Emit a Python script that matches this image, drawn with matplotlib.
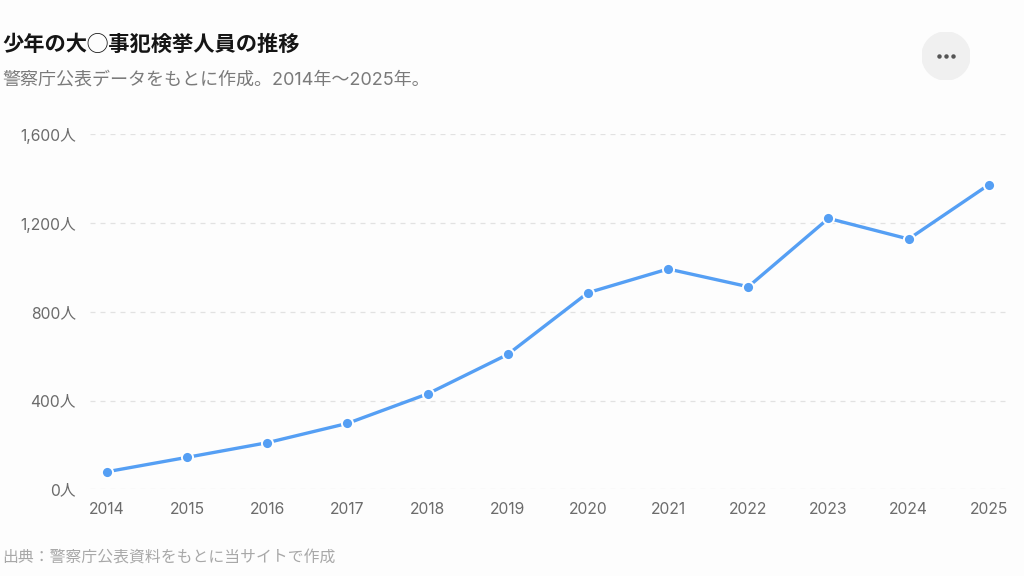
import matplotlib.pyplot as plt
from matplotlib.patches import Circle
from matplotlib.ticker import FuncFormatter

plt.rcParams['font.family'] = ['Inter', 'Noto Sans CJK JP', 'DejaVu Sans']

years = [2014, 2015, 2016, 2017, 2018, 2019, 2020, 2021, 2022, 2023, 2024, 2025]
arrests = [79, 144, 210, 297, 430, 608, 886, 993, 913, 1221, 1128, 1373]
y_ticks = [0, 400, 800, 1200, 1600]

title = '少年の大◯事犯検挙人員の推移'
subtitle = '警察庁公表データをもとに作成。2014年〜2025年。'
source = '出典：警察庁公表資料をもとに当サイトで作成'

line_color = '#559ff4'
bg = '#fdfdfd'

fig = plt.figure(figsize=(10.24, 5.76), dpi=100, facecolor=bg)
ax = fig.add_axes([90 / 1024, 1 - 489.3 / 576, (1005.7 - 90) / 1024, 355 / 576])
ax.set_facecolor(bg)

ax.plot(years, arrests, color=line_color, lw=2.4, marker='o', ms=8,
        mfc=line_color, mec='white', mew=1.4, clip_on=False, zorder=3)

ax.set_xlim(2013.79, 2025.21)
ax.set_ylim(0, 1600)
ax.set_xticks(years)
ax.set_xticklabels([str(y) for y in years])
ax.set_yticks(y_ticks)
ax.yaxis.set_major_formatter(FuncFormatter(lambda v, p: f'{int(v):,}人'))

ax.grid(axis='y', color='#e2e2e2', lw=0.9, linestyle=(0, (4, 4)))
ax.grid(axis='x', visible=False)
for s in ax.spines.values():
    s.set_visible(False)
ax.tick_params(axis='both', length=0, labelsize=11.3, colors='#6b6b6b')
ax.tick_params(axis='x', pad=9)
ax.tick_params(axis='y', pad=10)

fig.text(2 / 1024, 1 - 44 / 576, title, fontsize=15.3, fontweight='bold',
         color='#151515', va='center', ha='left',
         family=['Noto Sans CJK JP', 'DejaVu Sans'])
fig.text(2 / 1024, 1 - 80 / 576, subtitle, fontsize=13, color='#7a7a7a',
         va='center', ha='left')
fig.text(2 / 1024, 1 - 558 / 576, source, fontsize=11.4, color='#a8a8a8',
         va='center', ha='left')

# menu button
btn = fig.add_axes([922 / 1024, 1 - 80 / 576, 48 / 1024, 48 / 576])
btn.set_xlim(-1, 1)
btn.set_ylim(-1, 1)
btn.set_aspect('equal')
btn.axis('off')
btn.add_patch(Circle((0, 0), 1, color='#f0f0f0'))
btn.plot([-0.28, 0, 0.28], [0, 0, 0], 'o', color='#555555', ms=2.2)

fig.savefig('out.png', dpi=100, facecolor=bg)
